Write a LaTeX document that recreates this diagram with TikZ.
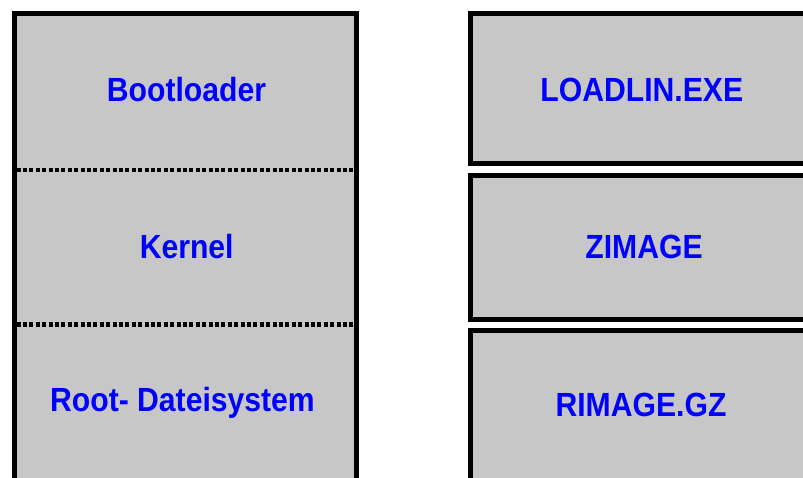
\documentclass[tikz,border=0pt]{standalone}
\usepackage{fontspec}
\setmainfont{Liberation Sans}
\definecolor{boxgray}{RGB}{199,199,199}
\definecolor{txtblue}{RGB}{0,0,255}
\tikzset{
  frame/.style={draw=black, fill=boxgray, line width=5pt},
  sep/.style={draw=black, line width=4.5pt, dash pattern=on 4pt off 2.4pt},
  lbl/.style={anchor=base, inner sep=0pt, text=txtblue,
    font=\fontsize{33.5}{40}\selectfont\bfseries},
}
\newcommand{\sq}[1]{\scalebox{0.9}[1]{#1}}
\begin{document}
\begin{tikzpicture}[x=1pt,y=-1pt]
\useasboundingbox (0,0) rectangle (803,477);
\fill[white] (0,0) rectangle (803,477);
% left stack
\draw[frame] (14,13.5) rectangle (356,495);
\coordinate (s1a) at (16.5,170);
\coordinate (s1b) at (353.5,170);
\coordinate (s2a) at (16.5,324.5);
\coordinate (s2b) at (353.5,324.5);
\draw[sep] (s1a) -- (s1b);
\draw[sep] (s2a) -- (s2b);
% right boxes
\draw[frame] (470,13.5) rectangle (840,163.7);
\draw[frame] (470,175) rectangle (840,319.3);
\draw[frame] (470,330) rectangle (840,495);
% labels
\node[lbl] (boot) at (186.5,101.7) {\sq{Bootloader}};
\node[lbl] (kern) at (186.7,258.3) {\sq{Kernel}};
\node[lbl] (root) at (182.5,411.7) {\sq{Root- Dateisystem}};
\node[lbl] (load) at (641.8,101.7) {\sq{LOADLIN.EXE}};
\node[lbl] (zim) at (644,258.3) {\sq{ZIMAGE}};
\node[lbl] (rim) at (641,416.5) {\sq{RIMAGE.GZ}};
\end{tikzpicture}
\end{document}
